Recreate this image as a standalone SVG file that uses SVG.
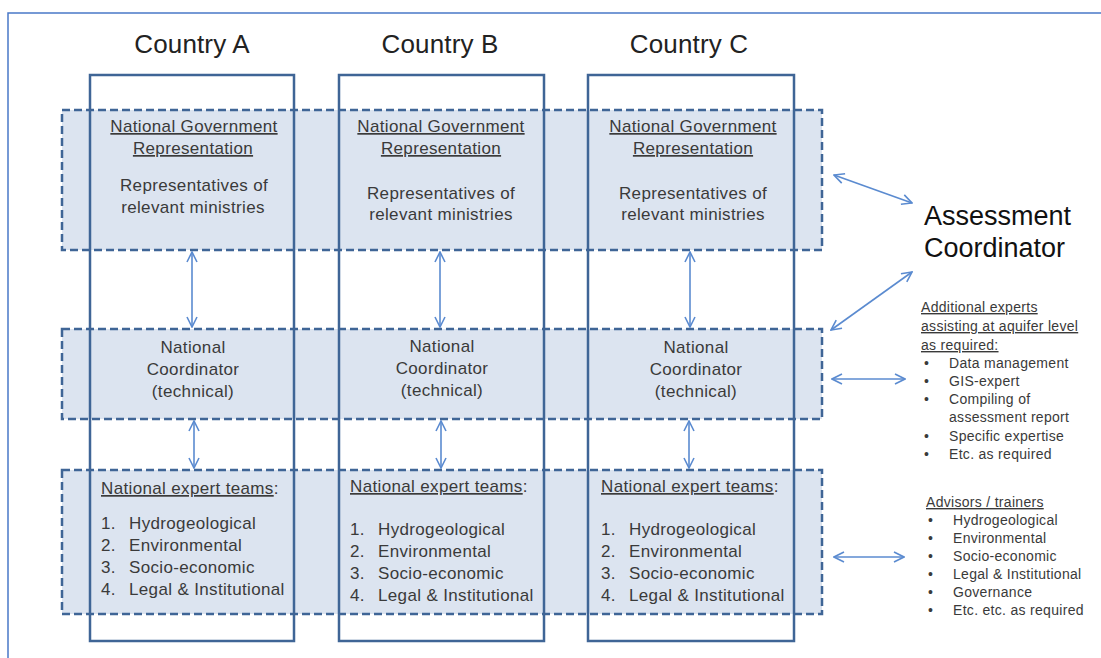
<svg xmlns="http://www.w3.org/2000/svg" width="1101" height="658" viewBox="0 0 1101 658">
<defs>
<style>
.band{fill:#dce4f0;stroke:#3f6596;stroke-width:2.5;stroke-dasharray:8 4}
.col{fill:none;stroke:#3f6596;stroke-width:2.5}
.t{font-family:"Liberation Sans",Arial,sans-serif;fill:#3a3a3a;}
.h{font-size:26px;text-anchor:middle;fill:#222;letter-spacing:0.15px}
.m{font-size:17px;text-anchor:middle;letter-spacing:0.35px}
.l{font-size:17px;letter-spacing:0.35px}
.s{font-size:14px;letter-spacing:0.3px}
.u{text-decoration:underline}
.ac{font-size:27px;fill:#111}
.arr{stroke:#5b8bd0;stroke-width:1.6;fill:none;marker-start:url(#ah);marker-end:url(#ah)}
</style>
<marker id="ah" viewBox="0 0 12 12" refX="11" refY="6" markerWidth="12" markerHeight="12" markerUnits="userSpaceOnUse" orient="auto-start-reverse">
<path d="M1,1 L11,6 L1,11" fill="none" stroke="#5b8bd0" stroke-width="1.6"/>
</marker>
</defs>
<rect width="1101" height="658" fill="#fff"/>
<path d="M8,658 V13 H1101" fill="none" stroke="#4a78c8" stroke-width="1.5"/>

<g id="bands">
<rect id="band-gov" class="band" x="62" y="110" width="760" height="140"/>
<rect id="band-coord" class="band" x="62" y="329" width="760" height="90"/>
<rect id="band-experts" class="band" x="62" y="470" width="760" height="144"/>
</g>

<g id="country-a">
<rect class="col" x="90" y="75" width="204" height="566"/>
<text class="t h" x="192" y="53">Country A</text>
<text class="t m u" x="194" y="132">National Government</text>
<text class="t m u" x="193" y="154">Representation</text>
<text class="t m" x="194" y="191">Representatives of</text>
<text class="t m" x="193" y="213">relevant ministries</text>
<text class="t m" x="193" y="353">National</text>
<text class="t m" x="193" y="375">Coordinator</text>
<text class="t m" x="193" y="397">(technical)</text>
<text class="t l" x="101" y="494"><tspan class="u">National expert teams</tspan>:</text>
<text class="t l" x="101" y="529">1.</text><text class="t l" x="129" y="529">Hydrogeological</text>
<text class="t l" x="101" y="551">2.</text><text class="t l" x="129" y="551">Environmental</text>
<text class="t l" x="101" y="573">3.</text><text class="t l" x="129" y="573">Socio-economic</text>
<text class="t l" x="101" y="595">4.</text><text class="t l" x="129" y="595">Legal &amp; Institutional</text>
</g>

<g id="country-b">
<rect class="col" x="339" y="75" width="205" height="566"/>
<text class="t h" x="440" y="53">Country B</text>
<text class="t m u" x="441" y="132">National Government</text>
<text class="t m u" x="441" y="154">Representation</text>
<text class="t m" x="441" y="199">Representatives of</text>
<text class="t m" x="441" y="220">relevant ministries</text>
<text class="t m" x="442" y="352">National</text>
<text class="t m" x="442" y="374">Coordinator</text>
<text class="t m" x="442" y="396">(technical)</text>
<text class="t l" x="350" y="492"><tspan class="u">National expert teams</tspan>:</text>
<text class="t l" x="350" y="535">1.</text><text class="t l" x="378" y="535">Hydrogeological</text>
<text class="t l" x="350" y="557">2.</text><text class="t l" x="378" y="557">Environmental</text>
<text class="t l" x="350" y="579">3.</text><text class="t l" x="378" y="579">Socio-economic</text>
<text class="t l" x="350" y="601">4.</text><text class="t l" x="378" y="601">Legal &amp; Institutional</text>
</g>

<g id="country-c">
<rect class="col" x="588" y="75" width="206" height="566"/>
<text class="t h" x="689" y="53">Country C</text>
<text class="t m u" x="693" y="132">National Government</text>
<text class="t m u" x="693" y="154">Representation</text>
<text class="t m" x="693" y="199">Representatives of</text>
<text class="t m" x="693" y="220">relevant ministries</text>
<text class="t m" x="696" y="353">National</text>
<text class="t m" x="696" y="375">Coordinator</text>
<text class="t m" x="696" y="397">(technical)</text>
<text class="t l" x="601" y="492"><tspan class="u">National expert teams</tspan>:</text>
<text class="t l" x="601" y="535">1.</text><text class="t l" x="629" y="535">Hydrogeological</text>
<text class="t l" x="601" y="557">2.</text><text class="t l" x="629" y="557">Environmental</text>
<text class="t l" x="601" y="579">3.</text><text class="t l" x="629" y="579">Socio-economic</text>
<text class="t l" x="601" y="601">4.</text><text class="t l" x="629" y="601">Legal &amp; Institutional</text>
</g>

<g id="assessment-coordinator">
<text class="t ac" x="924" y="225">Assessment</text>
<text class="t ac" x="924" y="257">Coordinator</text>
</g>

<g id="additional-experts" class="t s">
<text class="u" x="921" y="312">Additional experts</text>
<text class="u" x="921" y="331">assisting at aquifer level</text>
<text class="u" x="921" y="350">as required:</text>
<text x="924" y="368">•</text><text x="949" y="368">Data management</text>
<text x="924" y="386">•</text><text x="949" y="386">GIS-expert</text>
<text x="924" y="404">•</text><text x="949" y="404">Compiling of</text>
<text x="949" y="422">assessment report</text>
<text x="924" y="441">•</text><text x="949" y="441">Specific expertise</text>
<text x="924" y="459">•</text><text x="949" y="459">Etc. as required</text>
</g>

<g id="advisors" class="t s">
<text class="u" x="926" y="507">Advisors / trainers</text>
<text x="928" y="525">•</text><text x="953" y="525">Hydrogeological</text>
<text x="928" y="543">•</text><text x="953" y="543">Environmental</text>
<text x="928" y="561">•</text><text x="953" y="561">Socio-economic</text>
<text x="928" y="579">•</text><text x="953" y="579">Legal &amp; Institutional</text>
<text x="928" y="597">•</text><text x="953" y="597">Governance</text>
<text x="928" y="615">•</text><text x="953" y="615">Etc. etc. as required</text>
</g>

<g id="connectors">
<line class="arr" x1="192" y1="252" x2="192" y2="327"/>
<line class="arr" x1="194" y1="421" x2="194" y2="468"/>
<line class="arr" x1="440" y1="252" x2="440" y2="327"/>
<line class="arr" x1="441" y1="421" x2="441" y2="468"/>
<line class="arr" x1="690" y1="252" x2="690" y2="327"/>
<line class="arr" x1="689" y1="421" x2="689" y2="468"/>
<line class="arr" x1="834" y1="175" x2="912" y2="203"/>
<line class="arr" x1="831" y1="330" x2="912" y2="272"/>
<line class="arr" x1="832" y1="379" x2="905" y2="379"/>
<line class="arr" x1="834" y1="557" x2="904" y2="557"/>
</g>
</svg>
